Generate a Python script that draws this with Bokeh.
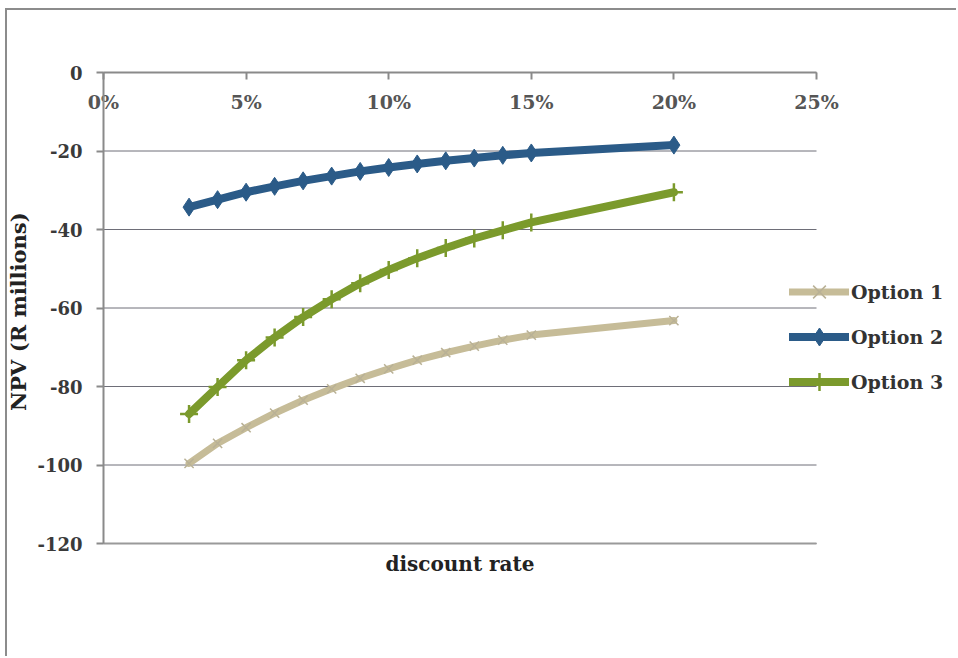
from bokeh.plotting import figure
from bokeh.models import (LinearAxis, FixedTicker, NumeralTickFormatter, Legend,
                          LegendItem, Range1d)
from bokeh.embed import file_html
from bokeh.resources import INLINE

# Discount rates (fraction) and NPV in R millions for each option
rates = [0.03, 0.04, 0.05, 0.06, 0.07, 0.08, 0.09, 0.10, 0.11, 0.12, 0.13, 0.14, 0.15, 0.20]
option1 = [-99.6, -94.5, -90.5, -86.8, -83.5, -80.6, -77.9, -75.5, -73.3, -71.4, -69.7, -68.2, -66.9, -63.2]
option2 = [-34.3, -32.4, -30.5, -29.0, -27.6, -26.4, -25.2, -24.2, -23.3, -22.5, -21.8, -21.1, -20.5, -18.5]
option3 = [-87.0, -80.1, -73.3, -67.5, -62.3, -57.8, -53.7, -50.3, -47.3, -44.7, -42.3, -40.2, -38.2, -30.5]

x_ticks = [0.0, 0.05, 0.10, 0.15, 0.20, 0.25]
y_ticks = [0, -20, -40, -60, -80, -100, -120]

FONT = "DejaVu Serif"

# Canvas geometry: the plotting area covers the whole canvas so that tick labels,
# titles and the legend sit around the 0..25% / -120..0 box without being clipped.
W, H = 951, 648
X0, X1 = 0.0, 0.25          # rate span of the box
Y0, Y1 = -120.0, 0.0        # NPV span of the box
BOX_L, BOX_R, BOX_T, BOX_B = 96, 809, 62, 533   # box edges in canvas pixels
px_per_x = (BOX_R - BOX_L) / (X1 - X0)
px_per_y = (BOX_B - BOX_T) / (Y1 - Y0)
x_range = Range1d(X0 - BOX_L / px_per_x, X1 + (W - BOX_R) / px_per_x)
y_range = Range1d(Y0 - (H - BOX_B) / px_per_y, Y1 + BOX_T / px_per_y)

p = figure(width=W, height=H, output_backend="svg", toolbar_location=None,
           x_range=x_range, y_range=y_range,
           x_axis_location=None, y_axis_location=None,
           min_border=0,
           styles={"margin-left": "5px", "margin-top": "8px",
                   "border-left": "2px solid #8c8c8c", "border-top": "2px solid #8c8c8c"})
p.outline_line_color = None
p.background_fill_color = "white"
p.border_fill_color = "white"
p.xgrid.visible = False
p.ygrid.visible = False

# Horizontal gridlines across the box
p.segment(x0=[X0] * len(y_ticks), x1=[X1] * len(y_ticks), y0=y_ticks, y1=y_ticks,
          line_color="#6e6e78", line_width=1)

# Y axis at rate = 0
yax = LinearAxis(ticker=FixedTicker(ticks=y_ticks), fixed_location=X0, bounds=(Y0, Y1),
                 formatter=NumeralTickFormatter(format="0"),
                 axis_label="NPV (R  millions)")
yax.axis_line_color = "#8a8a8a"
yax.axis_line_width = 2
yax.major_tick_line_color = "#8a8a8a"
yax.major_tick_line_width = 2
yax.major_tick_out = 7
yax.major_tick_in = 0
yax.minor_tick_line_color = None
yax.major_label_text_font = FONT
yax.major_label_text_font_style = "bold"
yax.major_label_text_font_size = "18px"
yax.major_label_text_color = "#3a3a3a"
yax.major_label_standoff = 14
yax.axis_label_text_font = FONT
yax.axis_label_text_font_style = "bold"
yax.axis_label_text_font_size = "21px"
yax.axis_label_text_color = "#222222"
yax.axis_label_standoff = 3
p.add_layout(yax, "left")

# Percent axis pinned at NPV = 0, labels hanging below the line
xax = LinearAxis(ticker=FixedTicker(ticks=x_ticks), fixed_location=Y1, bounds=(X0, X1),
                 formatter=NumeralTickFormatter(format="0%"))
xax.axis_line_color = "#8a8a8a"
xax.axis_line_width = 2
xax.major_tick_line_color = "#8a8a8a"
xax.major_tick_line_width = 2
xax.major_tick_out = 7
xax.major_tick_in = 0
xax.minor_tick_line_color = None
xax.major_label_text_font = FONT
xax.major_label_text_font_style = "bold"
xax.major_label_text_font_size = "19px"
xax.major_label_text_color = "#555555"
xax.major_label_standoff = 11
p.add_layout(xax, "below")

# Bottom edge of the box carrying the axis title
bax = LinearAxis(ticker=FixedTicker(ticks=[]), fixed_location=Y0, bounds=(X0, X1),
                 axis_label="discount rate")
bax.axis_line_color = "#9a9a9a"
bax.axis_line_width = 2
bax.major_tick_line_color = None
bax.minor_tick_line_color = None
bax.axis_label_text_font = FONT
bax.axis_label_text_font_style = "bold"
bax.axis_label_text_font_size = "20px"
bax.axis_label_text_color = "#222222"
bax.axis_label_standoff = 8
p.add_layout(bax, "below")

c1, c2, c3 = "#c6bc98", "#2b5b88", "#7b9a2c"

l1 = p.line(rates, option1, line_color=c1, line_width=7, line_cap="round", line_join="round")
m1 = p.scatter(rates, option1, marker="x", size=13, line_color="#b9b196", line_width=1.5)
l2 = p.line(rates, option2, line_color=c2, line_width=8, line_cap="round", line_join="round")
m2 = p.scatter(rates, option2, marker="diamond", size=18, fill_color=c2, line_color=c2)
l3 = p.line(rates, option3, line_color=c3, line_width=8, line_cap="round", line_join="round")
m3 = p.scatter(rates, option3, marker="cross", size=18, line_color=c3, line_width=2.5)

legend = Legend(items=[LegendItem(label="Option 1", renderers=[l1, m1]),
                       LegendItem(label="Option 2", renderers=[l2, m2]),
                       LegendItem(label="Option 3", renderers=[l3, m3])],
                location=(782, 254))
legend.padding = 0
legend.margin = 0
legend.spacing = 0
legend.glyph_width = 60
legend.glyph_height = 45
legend.label_height = 45
legend.label_standoff = 2
legend.background_fill_alpha = 0
legend.border_line_color = None
legend.label_text_font = FONT
legend.label_text_font_style = "bold"
legend.label_text_font_size = "19px"
legend.label_text_color = "#333333"
p.add_layout(legend, "center")

open("out.html", "w").write(file_html(p, INLINE))
